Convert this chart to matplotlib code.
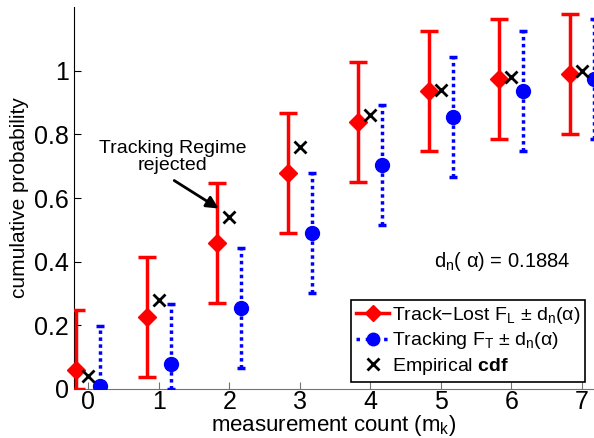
import numpy as np
import matplotlib.pyplot as plt

counts = [0, 1, 2, 3, 4, 5, 6, 7]
lost_cdf = [0.06, 0.225, 0.46, 0.68, 0.84, 0.935, 0.975, 0.99]
track_cdf = [0.01, 0.08, 0.255, 0.49, 0.705, 0.855, 0.935, 0.975]
emp_cdf = [0.04, 0.28, 0.54, 0.76, 0.86, 0.94, 0.98, 1.0]
d_n = 0.1884

plt.rcParams['font.family'] = ['Liberation Sans', 'DejaVu Sans']
plt.rcParams['mathtext.fontset'] = 'custom'
plt.rcParams['mathtext.rm'] = 'Liberation Sans'
plt.rcParams['mathtext.it'] = 'Liberation Sans'
plt.rcParams['mathtext.bf'] = 'Liberation Sans:bold'

x = np.array(counts, dtype=float)
lost = np.array(lost_cdf)
track = np.array(track_cdf)

fig = plt.figure(figsize=(5.94, 4.38), dpi=100)
ax = fig.add_axes([0.1246, 0.1119, 0.8754, 0.872])

# error bounds clipped to [0, inf)
lost_lo = lost - np.clip(lost - d_n, 0, None)
lost_hi = np.full_like(lost, d_n)
track_lo = track - np.clip(track - d_n, 0, None)
track_hi = np.full_like(track, d_n)

eb1 = ax.errorbar(x - 0.17, lost, yerr=[lost_lo, lost_hi], fmt='D', color='red',
                  ms=9, elinewidth=2.5, capsize=6.5, capthick=2.5, zorder=3)
eb1[0].set_clip_on(False)  # markers not clipped, bars are
eb = ax.errorbar(x + 0.17, track, yerr=[track_lo, track_hi], fmt='o', color='blue',
                 ms=10, elinewidth=2.5, capsize=3, capthick=2.5, zorder=3)
eb[2][0].set_linestyle((0, (1, 1)))
ax.plot(x, emp_cdf, 'x', color='black', ms=9, mew=2, zorder=4)

# legend handles
h1, = ax.plot([], [], 'D-', color='red', ms=8, lw=2.5)
h2, = ax.plot([], [], 'o:', color='blue', ms=9, lw=2.5)
h3, = ax.plot([], [], 'x', color='black', ms=8, mew=2, lw=0)
leg = ax.legend([h1, h2, h3],
                [r'Track$-$Lost F$_L$ $\pm$ d$_n$($\alpha$)',
                 r'Tracking F$_T$ $\pm$ d$_n$($\alpha$)',
                 r'Empirical $\mathbf{cdf}$'],
                loc='lower right', bbox_to_anchor=(0.983, 0.018),
                fontsize=14, fancybox=False, edgecolor='black',
                framealpha=1, handlelength=1.7, handletextpad=0.15,
                borderpad=0.25, labelspacing=0.25, borderaxespad=0)
leg.get_frame().set_linewidth(1.2)

ax.text(4.9, 0.40, r'd$_n$( $\alpha$) = 0.1884', fontsize=14.5, va='center')

ax.text(1.2, 0.73, 'Tracking Regime\nrejected', ha='center', va='center',
        fontsize=14, linespacing=1.0)
ax.annotate('', xy=(1.85, 0.567), xytext=(1.22, 0.655),
            arrowprops=dict(arrowstyle='-|>', color='black', lw=2,
                            mutation_scale=18, shrinkA=0, shrinkB=0))

ax.set_xlim(-0.2, 7.17)
ax.set_ylim(0, 1.2)
ax.set_xticks(counts)
ax.set_yticks([0, 0.2, 0.4, 0.6, 0.8, 1.0])
ax.set_yticklabels(['0', '0.2', '0.4', '0.6', '0.8', '1'])
ax.tick_params(labelsize=18, direction='in', length=5)
ax.spines['top'].set_visible(False)
ax.spines['right'].set_visible(False)
ax.spines['bottom'].set_color('0.45')
ax.tick_params(axis='x', colors='0.45', labelcolor='black', pad=1)
ax.set_xlabel(r'measurement count (m$_k$)', fontsize=16, labelpad=-1)
ax.set_ylabel('cumulative probability', fontsize=15, labelpad=4)

fig.savefig('out.png', dpi=100)
